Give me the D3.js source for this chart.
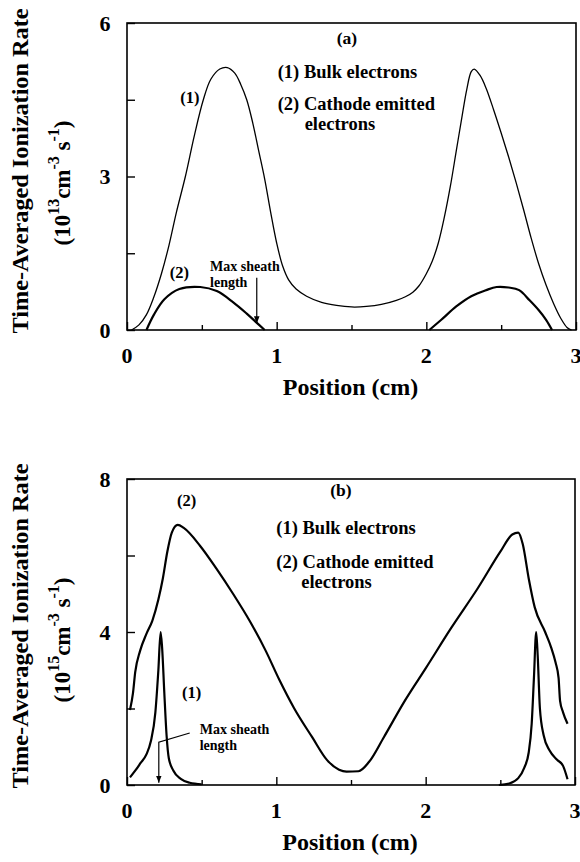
<!DOCTYPE html>
<html>
<head>
<meta charset="utf-8">
<script src="https://cdn.jsdelivr.net/npm/d3@7"></script>
<style>
  body { margin: 0; background: #fff; }
</style>
</head>
<body>
<div id="chart"></div>
<script>
// panel (a): bulk electrons [position cm, rate 1e13]
const bulkA = [[0.03,0],[0.08,0.1],[0.13,0.3],[0.18,0.65],[0.23,1.1],[0.28,1.65],[0.33,2.3],[0.39,3.0],[0.45,3.8],[0.51,4.5],[0.56,4.9],[0.62,5.1],[0.67,5.13],[0.72,5.02],[0.76,4.8],[0.8,4.5],[0.84,4.05],[0.88,3.5],[0.92,2.95],[0.96,2.3],[1.0,1.7],[1.04,1.25],[1.08,0.98],[1.13,0.8],[1.2,0.66],[1.3,0.54],[1.4,0.48],[1.5,0.45],[1.6,0.46],[1.7,0.5],[1.8,0.58],[1.86,0.65],[1.91,0.74],[1.95,0.86],[2.0,1.1],[2.04,1.35],[2.08,1.7],[2.12,2.2],[2.16,2.8],[2.2,3.5],[2.24,4.2],[2.27,4.7],[2.3,5.05],[2.32,5.1],[2.36,4.97],[2.4,4.72],[2.45,4.3],[2.5,3.85],[2.55,3.38],[2.6,2.88],[2.65,2.35],[2.7,1.8],[2.75,1.3],[2.8,0.88],[2.85,0.52],[2.9,0.22],[2.94,0.05],[2.97,0]]
// panel (a): cathode emitted electrons
const cathodeA1 = [[0.13,0],[0.18,0.3],[0.25,0.6],[0.35,0.8],[0.49,0.84],[0.6,0.76],[0.71,0.54],[0.8,0.32],[0.86,0.16],[0.92,0]]
const cathodeA2 = [[2.02,0],[2.1,0.2],[2.2,0.46],[2.3,0.66],[2.4,0.78],[2.47,0.84],[2.55,0.83],[2.62,0.78],[2.69,0.58],[2.75,0.39],[2.8,0.2],[2.84,0]]
// panel (b): bulk electrons [position cm, rate 1e15]
const bulkB1 = [[0.02,0.2],[0.06,0.4],[0.09,0.57],[0.13,0.8],[0.16,1.15],[0.19,1.9],[0.21,3.0],[0.225,4.0],[0.235,3.6],[0.25,2.4],[0.265,1.3],[0.28,0.7],[0.31,0.38],[0.36,0.16],[0.42,0.06],[0.5,0.02]]
const bulkB2 = [[2.49,0],[2.56,0.04],[2.62,0.18],[2.66,0.45],[2.69,0.85],[2.71,1.6],[2.725,2.8],[2.74,4.0],[2.75,3.4],[2.765,2.0],[2.79,1.3],[2.83,0.9],[2.88,0.66],[2.92,0.5],[2.95,0.15]]
// panel (b): cathode emitted electrons
const cathodeB = [[0.02,1.96],[0.04,2.4],[0.055,2.95],[0.087,3.5],[0.13,3.95],[0.17,4.3],[0.21,4.85],[0.24,5.4],[0.27,6.1],[0.3,6.6],[0.34,6.8],[0.38,6.72],[0.49,6.25],[0.6,5.65],[0.71,5.0],[0.82,4.3],[0.93,3.5],[1.02,2.75],[1.12,2.0],[1.24,1.25],[1.34,0.65],[1.42,0.4],[1.47,0.35],[1.55,0.36],[1.62,0.6],[1.72,1.25],[1.86,2.2],[2.0,3.05],[2.17,4.1],[2.35,5.15],[2.5,6.1],[2.58,6.55],[2.62,6.6],[2.65,6.3],[2.69,5.4],[2.73,4.65],[2.8,4.0],[2.84,3.6],[2.87,3.2],[2.89,2.8],[2.9,2.2],[2.92,1.9],[2.95,1.6]]

const xTicks = [0, 0.5, 1, 1.5, 2, 2.5, 3]
const xLabels = [0, 1, 2, 3]
const yTicksA = [0, 1.5, 3, 4.5, 6]
const yLabelsA = [0, 3, 6]
const yTicksB = [0, 2, 4, 6, 8]
const yLabelsB = [0, 4, 8]

const serif = "'Liberation Serif', 'Times New Roman', Times, serif"

const svg = d3.select("#chart").append("svg")
    .attr("width", 580)
    .attr("height", 862)
    .attr("font-family", serif)
    .attr("font-weight", "bold")

svg.append("defs").append("marker")
    .attr("id", "arrow")
    .attr("viewBox", "0 0 10 10")
    .attr("refX", 10).attr("refY", 5)
    .attr("markerWidth", 7).attr("markerHeight", 9)
    .attr("markerUnits", "userSpaceOnUse")
    .attr("orient", "auto")
    .append("path")
    .attr("d", "M0,1 L10,5 L0,9 Z")
    .attr("fill", "#000")

function drawPanel(p) {
    const x = d3.scaleLinear().domain([0, 3]).range([p.left, p.right])
    const y = d3.scaleLinear().domain([0, p.yMax]).range([p.bottom, p.top])
    const g = svg.append("g")

    // frame
    g.append("rect")
        .attr("x", p.left).attr("y", p.top)
        .attr("width", p.right - p.left).attr("height", p.bottom - p.top)
        .attr("fill", "none").attr("stroke", "#000").attr("stroke-width", 1.6)

    // x axis, ticks point inward
    const xAxis = g.append("g")
        .attr("transform", `translate(0,${p.bottom})`)
        .call(d3.axisBottom(x).tickValues(xTicks).tickSize(0).tickPadding(0).tickFormat(""))
    xAxis.select(".domain").remove()
    xAxis.selectAll(".tick line")
        .attr("y2", d => xLabels.includes(d) ? -8 : -5)
        .attr("stroke-width", 1.4)
    g.selectAll(".xlab").data(xLabels).join("text")
        .attr("x", d => x(d)).attr("y", p.bottom + 25)
        .attr("text-anchor", "middle").attr("dominant-baseline", "central")
        .attr("font-family", serif).attr("font-weight", "bold")
        .attr("font-size", 22).text(d => d)

    // y axis, ticks point inward
    const yAxis = g.append("g")
        .attr("transform", `translate(${p.left},0)`)
        .call(d3.axisLeft(y).tickValues(p.yTicks).tickSize(0).tickPadding(0).tickFormat(""))
    yAxis.select(".domain").remove()
    yAxis.selectAll(".tick line").attr("x2", 8).attr("stroke-width", 1.4)
    g.selectAll(".ylab").data(p.yLabels).join("text")
        .attr("x", 105).attr("y", d => y(d))
        .attr("text-anchor", "middle").attr("dominant-baseline", "central")
        .attr("font-family", serif).attr("font-weight", "bold")
        .attr("font-size", 22).text(d => d)

    // axis titles
    g.append("text")
        .attr("x", x(1.5) - 1).attr("y", p.bottom + 57)
        .attr("text-anchor", "middle").attr("dominant-baseline", "central")
        .attr("font-family", serif).attr("font-weight", "bold")
        .attr("font-size", 24).text("Position (cm)")

    g.append("text")
        .attr("transform", `translate(20,${p.titleY}) rotate(-90)`)
        .attr("text-anchor", "middle").attr("dominant-baseline", "central")
        .attr("font-family", serif).attr("font-weight", "bold")
        .attr("font-size", 23).attr("textLength", 325).attr("lengthAdjust", "spacingAndGlyphs")
        .text("Time-Averaged Ionization Rate")

    const unit = g.append("text")
        .attr("transform", `translate(62,${p.unitY}) rotate(-90)`)
        .attr("text-anchor", "middle").attr("dominant-baseline", "central")
        .attr("font-family", serif).attr("font-weight", "bold")
        .attr("font-size", 23)
    unit.append("tspan").text("(10")
    unit.append("tspan").attr("dy", -9).attr("font-size", 16).text(p.exp)
    unit.append("tspan").attr("dy", 9).text("cm")
    unit.append("tspan").attr("dy", -9).attr("font-size", 16).text("-3")
    unit.append("tspan").attr("dy", 9).text(" s")
    unit.append("tspan").attr("dy", -9).attr("font-size", 16).text("-1")
    unit.append("tspan").attr("dy", 9).text(")")

    // curves
    p.series.forEach(s => {
        const line = d3.line()
            .x(d => x(d[0])).y(d => y(d[1]))
            .curve(s.curve)
        g.append("path")
            .datum(s.data)
            .attr("d", line)
            .attr("fill", "none").attr("stroke", "#000")
            .attr("stroke-width", s.width)
            .attr("stroke-linejoin", "round")
    })

    // sheath arrow
    g.append("path")
        .attr("d", d3.line().x(d => x(d[0])).y(d => y(d[1]))(p.arrow))
        .attr("fill", "none").attr("stroke", "#000").attr("stroke-width", 1.2)
        .attr("marker-end", "url(#arrow)")

    // labels
    p.labels.forEach(l => {
        g.append("text")
            .attr("x", x(l.x)).attr("y", y(l.y))
            .attr("text-anchor", l.anchor || "start").attr("dominant-baseline", "central")
            .attr("font-family", serif).attr("font-weight", "bold")
            .attr("font-size", l.size).text(l.text)
    })
}

drawPanel({
    left: 127, right: 576, top: 23, bottom: 330, yMax: 6,
    yTicks: yTicksA, yLabels: yLabelsA, exp: "13", titleY: 171, unitY: 183,
    series: [
        {data: bulkA, width: 1.3, curve: d3.curveCatmullRom},
        {data: cathodeA1, width: 2.2, curve: d3.curveCatmullRom},
        {data: cathodeA2, width: 2.2, curve: d3.curveCatmullRom}
    ],
    arrow: [[0.867, 1.02], [0.867, 0.13]],
    labels: [
        {text: "(a)", x: 1.47, y: 5.7, size: 17.5, anchor: "middle"},
        {text: "(1) Bulk electrons", x: 1.007, y: 5.04, size: 18.5},
        {text: "(2) Cathode emitted", x: 1.007, y: 4.41, size: 18.5},
        {text: "electrons", x: 1.187, y: 4.02, size: 18.5},
        {text: "(1)", x: 0.42, y: 4.55, size: 16.5, anchor: "middle"},
        {text: "(2)", x: 0.35, y: 1.12, size: 16.5, anchor: "middle"},
        {text: "Max sheath", x: 0.555, y: 1.24, size: 14},
        {text: "length", x: 0.555, y: 0.92, size: 14}
    ]
})

drawPanel({
    left: 127, right: 575, top: 479, bottom: 785, yMax: 8,
    yTicks: yTicksB, yLabels: yLabelsB, exp: "15", titleY: 626, unitY: 640,
    series: [
        {data: cathodeB, width: 2.2, curve: d3.curveMonotoneX},
        {data: bulkB1, width: 2.2, curve: d3.curveMonotoneX},
        {data: bulkB2, width: 2.2, curve: d3.curveMonotoneX}
    ],
    arrow: [[0.42, 1.36], [0.213, 1.12], [0.213, 0.06]],
    labels: [
        {text: "(b)", x: 1.433, y: 7.7, size: 17.5, anchor: "middle"},
        {text: "(1) Bulk electrons", x: 1.0, y: 6.71, size: 18.5},
        {text: "(2) Cathode emitted", x: 1.0, y: 5.82, size: 18.5},
        {text: "electrons", x: 1.167, y: 5.3, size: 18.5},
        {text: "(2)", x: 0.4, y: 7.44, size: 16.5, anchor: "middle"},
        {text: "(1)", x: 0.433, y: 2.43, size: 16.5, anchor: "middle"},
        {text: "Max sheath", x: 0.487, y: 1.44, size: 14},
        {text: "length", x: 0.487, y: 1.04, size: 14}
    ]
})
</script>
</body>
</html>
